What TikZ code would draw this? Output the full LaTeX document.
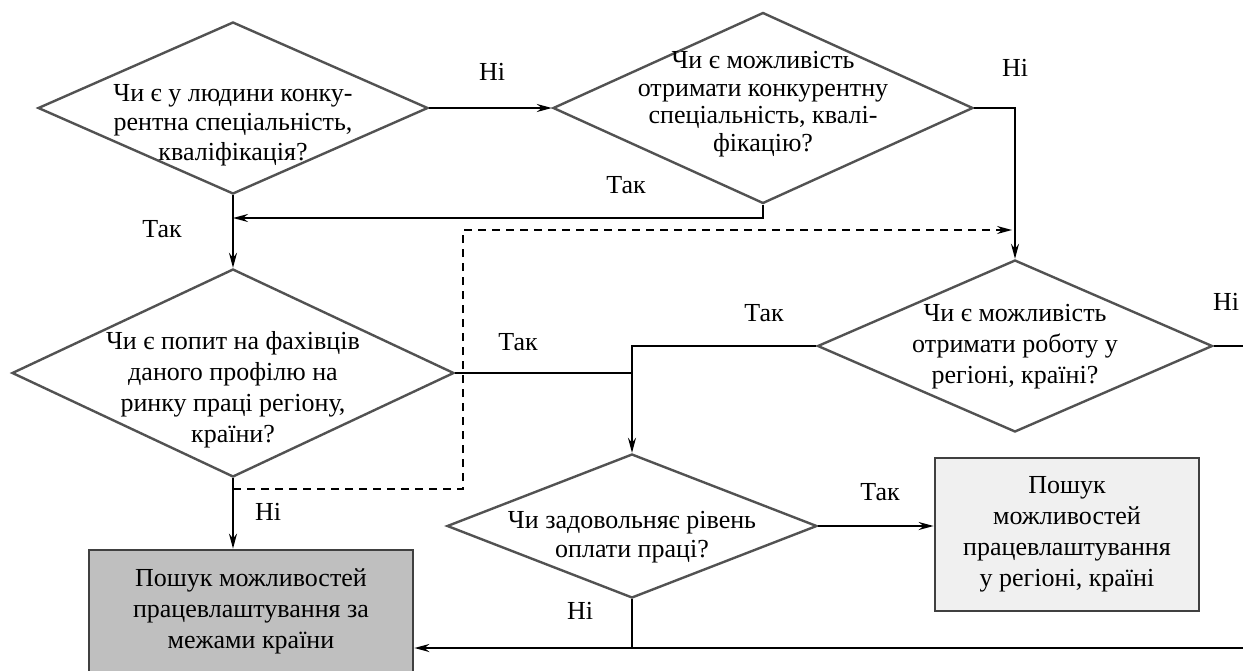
\documentclass[tikz,border=0pt]{standalone}
\usepackage{fontspec}
\setmainfont{Liberation Serif}
\usetikzlibrary{arrows.meta,shapes.geometric}
\tikzset{
  question/.style={
    shape=diamond,
    draw=black!68,
    line width=2.4pt,
    fill=white,
    inner sep=0pt
  },
  qtext/.style={
    inner sep=0pt,
    align=center,
    font=\fontsize{26}{29.5}\selectfont
  },
  result/.style={
    shape=rectangle,
    draw=black!75,
    line width=2.8pt,
    inner sep=0pt,
    align=center,
    font=\fontsize{26}{31}\selectfont
  },
  answer/.style={
    inner sep=0pt,
    font=\fontsize{26}{30}\selectfont
  },
  link/.style={line width=1.9pt},
  >={Stealth[length=15pt,width=8pt,inset=5pt]}
}

\begin{document}
\begin{tikzpicture}[x=1pt,y=-1pt]

  \useasboundingbox (0,0) rectangle (1243,670);

  \node[question, minimum width=390pt, minimum height=172pt] (q1) at (233,108) {};
  \node[question, minimum width=420pt, minimum height=191pt] (q2) at (763,108) {};
  \node[question, minimum width=442pt, minimum height=208pt] (q3) at (233,373) {};
  \node[question, minimum width=395pt, minimum height=172pt] (q4) at (1015,346) {};
  \node[question, minimum width=370pt, minimum height=144pt] (q5) at (632,526) {};

  \node[qtext] (q1t) at ([yshift=-17pt]q1) {Чи є у людини конку-\\рентна спеціальність,\\кваліфікація?};
  \node[qtext, font=\fontsize{26}{27.5}\selectfont] (q2t) at ([yshift=4pt]q2) {Чи є можливість\\отримати конкурентну\\спеціальність, квалі-\\фікацію?};
  \node[qtext, font=\fontsize{26}{31}\selectfont] (q3t) at ([yshift=-17pt]q3) {Чи є попит на фахівців\\даного профілю на\\ринку праці регіону,\\країни?};
  \node[qtext, font=\fontsize{26}{31}\selectfont] (q4t) at ([yshift=-1pt]q4) {Чи є можливість\\отримати роботу у\\регіоні, країні?};
  \node[qtext] (q5t) at ([yshift=-11pt]q5) {Чи задовольняє рівень\\оплати праці?};

  \node[result, fill=black!25, minimum width=324pt, minimum height=122pt] (abroad) at (251,611) {Пошук можливостей\\працевлаштування за\\межами країни};
  \node[result, fill=black!6, minimum width=264pt, minimum height=153pt] (region) at (1067,534.5) {Пошук\\можливостей\\працевлаштування\\у регіоні, країні};

  \coordinate (back) at (233,218);
  \coordinate (d0) at (233,489);
  \coordinate (d1) at (463,230);
  \coordinate (d2) at (1012,230);
  \coordinate (e1) at (1243,346);
  \coordinate (e2) at (1243,648);

  \draw[link,->] (q1.east) -- (q2.west);
  \draw[link,->] (q2.east) -| (q4.north);
  \draw[link,->] (q2.south) |- (back);
  \draw[link,->] (q1.south) -- (q3.north);
  \draw[line width=1.5pt, dash pattern=on 8pt off 6pt, ->] (d0) -| (d1) -- (d2);
  \draw[link] (q3.east) -- (q3.east -| q5.north);
  \draw[link,->] (q4.west) -| (q5.north);
  \draw[link] (q4.east) -- (e1);
  \draw[link,->] (q5.east) -- (q5.east -| region.west);
  \draw[link] (q5.south) -- (q5.south |- e2);
  \draw[link,->] (e2) -- (e2 -| abroad.east);
  \draw[link,->] (q3.south) -- (q3.south |- abroad.north);

  \node[answer] (n1) at (492,72) {Ні};
  \node[answer] (n2) at (1015,68) {Ні};
  \node[answer] (t1) at (626,185) {Так};
  \node[answer] (t2) at (162,229) {Так};
  \node[answer] (t3) at (518,342) {Так};
  \node[answer] (t4) at (764,313) {Так};
  \node[answer] (n3) at (1226,302) {Ні};
  \node[answer] (n4) at (268,512) {Ні};
  \node[answer] (t5) at (880,492) {Так};
  \node[answer] (n5) at (580,611) {Ні};

\end{tikzpicture}
\end{document}
